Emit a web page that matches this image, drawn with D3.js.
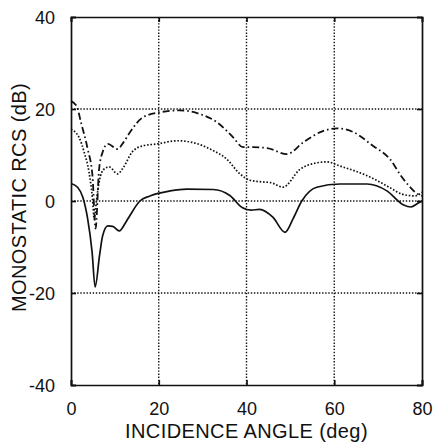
<!DOCTYPE html>
<html>
<head>
<meta charset="utf-8">
<script src="https://cdn.jsdelivr.net/npm/d3@7"></script>
<style>
  body { margin: 0; background: #fff; }
  text { font-family: "Liberation Sans", Arial, sans-serif; fill: #111; }
</style>
</head>
<body>
<svg id="chart" width="433" height="442"></svg>
<script>
// tick values
let x_ticks = [0, 20, 40, 60, 80];
let y_ticks = [-40, -20, 0, 20, 40];

// solid curve
let solid_angle = [0, 1.5, 2.7, 3.8, 4.8, 5.5, 6.5, 7.2, 8.4, 9.5, 11, 12.5, 13.4, 15.7, 18, 22.6, 26.4, 32.4, 36.2, 39, 41, 43, 46, 48.8, 50.6, 52.6, 56, 61.3, 67.5, 72, 75.7, 77.5, 78.9, 80];
let solid_rcs = [3.8, 3, 0.8, -3.9, -11, -18.7, -11.9, -7.6, -5.4, -5.5, -6.5, -4.6, -3.2, 0, 1.1, 2.2, 2.6, 2.5, 1.2, -1.4, -2.0, -1.8, -3.5, -6.8, -3.9, 0, 3, 3.7, 3.7, 2.2, -0.8, -1.3, -0.6, 0];

// dotted curve
let dotted_angle = [0, 1.8, 3, 4.1, 4.9, 5.3, 5.8, 6.4, 7.5, 8.7, 10.6, 12, 13.9, 16.4, 19.6, 24.2, 27.8, 31.7, 35.5, 38.5, 40.8, 43, 45.5, 48.3, 52.2, 55.5, 58.3, 61.3, 67.5, 72.7, 75.4, 78.4, 80];
let dotted_rcs = [15.6, 13.9, 10.6, 6.3, 0.5, -4, 0, 4.1, 6.9, 7.4, 5.9, 7.4, 10.6, 12, 12.4, 13.1, 12.7, 11.3, 9.1, 5.9, 4.5, 4.2, 4, 3, 6.9, 8.2, 8.5, 7.6, 5.5, 2.9, 1.5, 1.1, 1.9];

// dash-dot curve
let dashdot_angle = [0, 1.3, 2.3, 3.8, 4.9, 5.6, 6.4, 7.2, 8.4, 10.6, 12, 13.4, 16.4, 20.3, 24.8, 29.4, 33.3, 36.9, 39.2, 41.5, 44.7, 49.2, 53, 57.4, 60.6, 64.3, 68.8, 72.7, 75.4, 77.3, 79, 80];
let dashdot_rcs = [21.7, 20.6, 17, 11.3, 5.4, -6, 6.9, 10.6, 12.4, 11.3, 12.8, 14.9, 18.2, 19.3, 19.7, 18.9, 17.1, 13.9, 11.7, 11.7, 11.5, 10.2, 12.8, 15.2, 15.8, 15, 12, 9.1, 5.2, 3, 1.5, 1.1];

let margin = {top: 17, right: 11, bottom: 57, left: 71};
let width = 433 - margin.left - margin.right;
let height = 442 - margin.top - margin.bottom;

let svg = d3.select("#chart");
let figure = svg.append("g")
    .attr("transform", "translate(" + margin.left + "," + margin.top + ")");

let x = d3.scaleLinear().domain([0, 80]).range([0, width]);
let y = d3.scaleLinear().domain([-40, 40]).range([height, 0]);

// grid
figure.append("g")
    .selectAll("line")
    .data(x_ticks.slice(1, -1))
    .enter()
    .append("line")
    .attr("x1", d => x(d)).attr("x2", d => x(d))
    .attr("y1", 0).attr("y2", height)
    .style("stroke", "#111")
    .style("stroke-width", 1.4)
    .style("stroke-dasharray", "1.4,1.7");

figure.append("g")
    .selectAll("line")
    .data(y_ticks.slice(1, -1))
    .enter()
    .append("line")
    .attr("x1", 0).attr("x2", width)
    .attr("y1", d => y(d)).attr("y2", d => y(d))
    .style("stroke", "#111")
    .style("stroke-width", 1.4)
    .style("stroke-dasharray", "1.4,1.7");

// axes, ticks pointing inward
let fmt = d => String(d);
let xAxis = figure.append("g")
    .attr("transform", "translate(0," + height + ")")
    .call(d3.axisBottom(x).tickValues(x_ticks).tickSize(-5).tickPadding(17).tickFormat(fmt));
let xTop = figure.append("g")
    .call(d3.axisTop(x).tickValues(x_ticks).tickSize(-5).tickFormat(""));
let yAxis = figure.append("g")
    .call(d3.axisLeft(y).tickValues(y_ticks).tickSize(-5).tickPadding(16).tickFormat(fmt));
let yRight = figure.append("g")
    .attr("transform", "translate(" + width + ",0)")
    .call(d3.axisRight(y).tickValues(y_ticks).tickSize(-5).tickFormat(""));

[xAxis, xTop, yAxis, yRight].forEach(function(a){
    a.select(".domain").style("stroke", "#111").style("stroke-width", 1.7);
    a.selectAll(".tick line").style("stroke", "#111").style("stroke-width", 1.7);
    a.selectAll("text").style("font-size", "18px").style("font-family", "'Liberation Sans', Arial, sans-serif").style("fill", "#111");
});
yAxis.selectAll("text").attr("dy", "0.36em");

// curves
let line = d3.line()
    .x(d => x(d[0]))
    .y(d => y(d[1]))
    .curve(d3.curveMonotoneX);

let series = [
    {angle: solid_angle, rcs: solid_rcs, dash: null, w: 1.7},
    {angle: dotted_angle, rcs: dotted_rcs, dash: "1.6,1.8", w: 1.7},
    {angle: dashdot_angle, rcs: dashdot_rcs, dash: "7,3,1.6,3", w: 1.8}
];

series.forEach(function(s){
    figure.append("path")
        .datum(d3.zip(s.angle, s.rcs))
        .attr("d", line)
        .style("fill", "none")
        .style("stroke", "#111")
        .style("stroke-width", s.w)
        .style("stroke-dasharray", s.dash);
});

// titles
svg.append("text")
    .attr("x", margin.left + width / 2)
    .attr("y", 437.5)
    .style("text-anchor", "middle")
    .style("font-size", "20px")
    .style("letter-spacing", "0.4px")
    .text("INCIDENCE ANGLE (deg)");

svg.append("text")
    .attr("transform", "translate(26," + 197.5 + ") rotate(-90)")
    .style("text-anchor", "middle")
    .style("font-size", "20px")
    .style("letter-spacing", "0.4px")
    .text("MONOSTATIC RCS (dB)");
</script>
</body>
</html>
